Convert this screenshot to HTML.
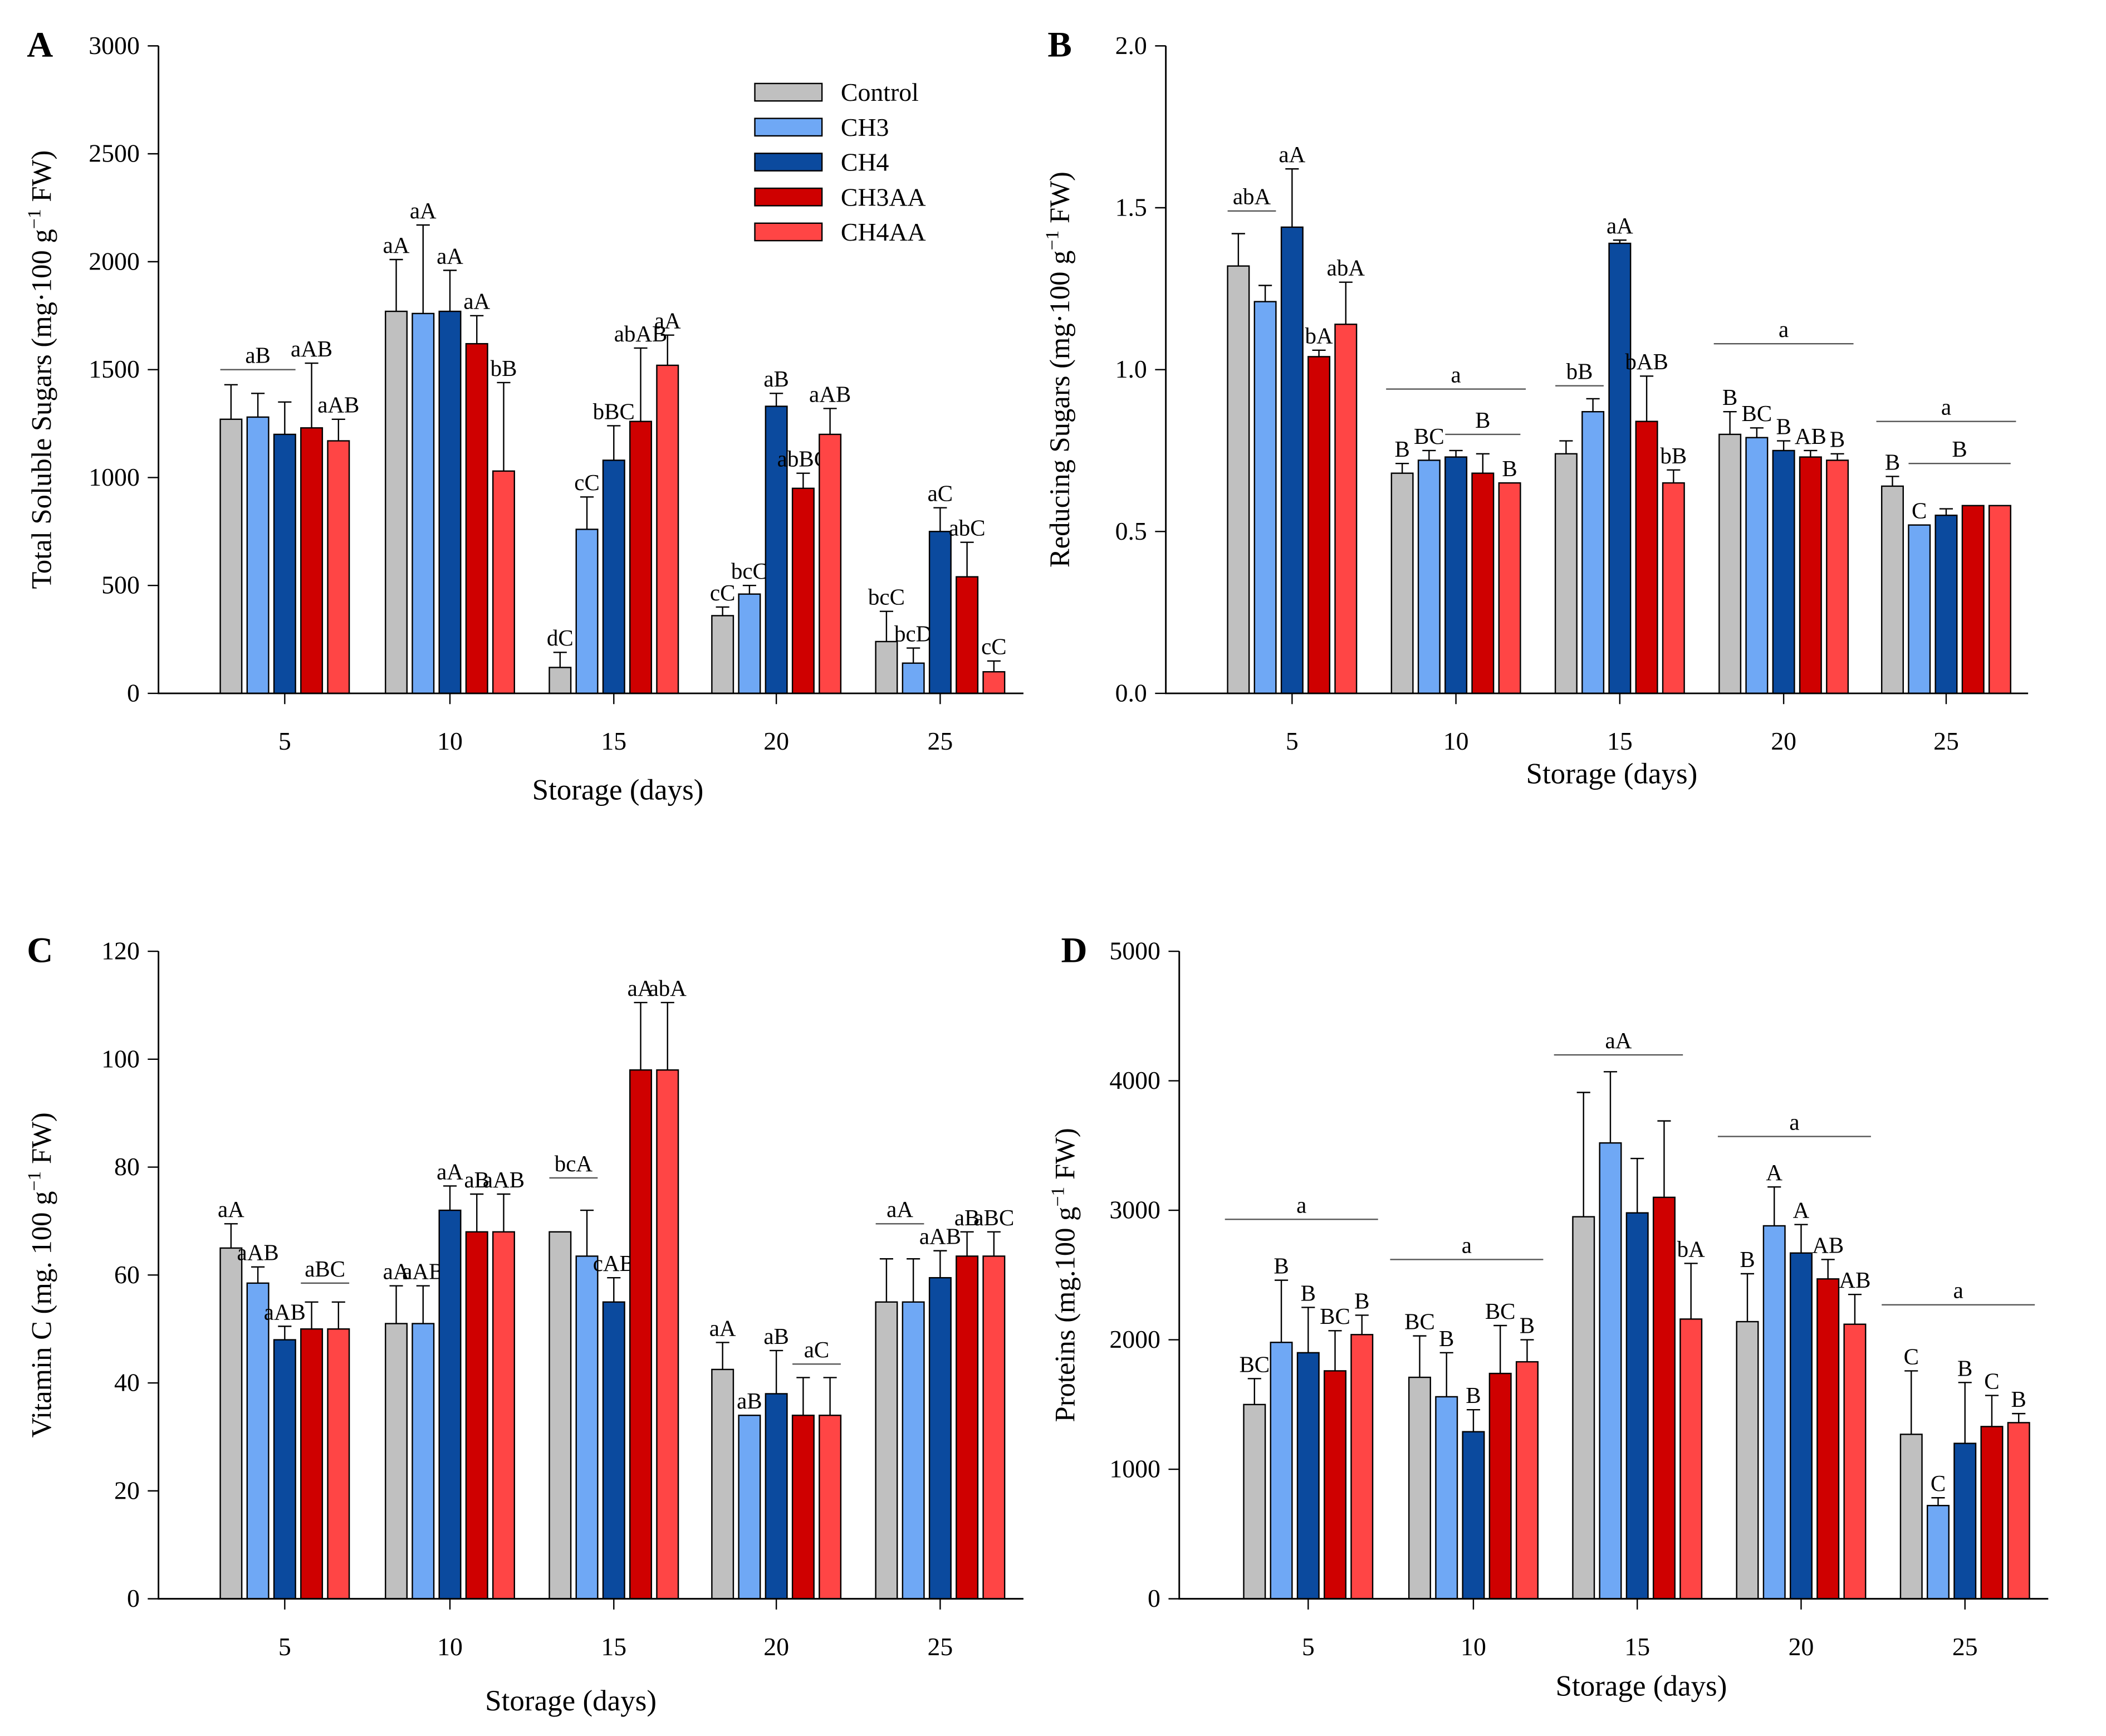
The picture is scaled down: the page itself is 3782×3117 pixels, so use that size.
<!DOCTYPE html>
<html><head><meta charset="utf-8">
<style>
html,body{margin:0;padding:0;background:#fff;}
svg{display:block;font-family:"Liberation Serif",serif;}
</style></head>
<body>
<svg id="chart" width="3782" height="3117" viewBox="0 0 1568 1292" xmlns="http://www.w3.org/2000/svg">
<rect width="1568" height="1292" fill="#fff"/>
</svg>
<script>
const categories = ["5","10","15","20","25"];
const seriesNames = ["Control","CH3","CH4","CH3AA","CH4AA"];
const seriesColors = ["#c0c0c0","#6fa8f5","#0b4a9e","#cf0000","#ff4545"];

const aVals = [[1270,1280,1200,1230,1170],[1770,1760,1770,1620,1030],[120,760,1080,1260,1520],[360,460,1330,950,1200],[240,140,750,540,100]];
const aErr  = [[160,110,150,300,100],[240,410,190,130,410],[70,150,160,340,140],[40,40,60,70,120],[140,70,110,160,50]];
const aLabels = [["","","","aAB","aAB"],["aA","aA","aA","aA","bB"],["dC","cC","bBC","abAB","aA"],["cC","bcC","aB","abBC","aAB"],["bcC","bcD","aC","abC","cC"]];
const aLines = [[0,0,2,1500,"aB"]];
const aTicks = [0,500,1000,1500,2000,2500,3000];

const bVals = [[1.32,1.21,1.44,1.04,1.14],[0.68,0.72,0.73,0.68,0.65],[0.74,0.87,1.39,0.84,0.65],[0.80,0.79,0.75,0.73,0.72],[0.64,0.52,0.55,0.58,0.58]];
const bErr  = [[0.10,0.05,0.18,0.02,0.13],[0.03,0.03,0.02,0.06,0.0],[0.04,0.04,0.01,0.14,0.04],[0.07,0.03,0.03,0.02,0.02],[0.03,0.0,0.02,0.0,0.0]];
const bLabels = [["","","aA","bA","abA"],["B","BC","","","B"],["","","aA","bAB","bB"],["B","BC","B","AB","B"],["B","C","","",""]];
const bLines = [[0,0,1,1.49,"abA"],[1,-0.2,4.2,0.94,"a"],[1,2,4,0.80,"B"],[2,0,1,0.95,"bB"],[3,-0.2,4.2,1.08,"a"],[4,-0.2,4.2,0.84,"a"],[4,1,4,0.71,"B"]];
const bTicks = [0,0.5,1.0,1.5,2.0];

const cVals = [[65,58.5,48,50,50],[51,51,72,68,68],[68,63.5,55,98,98],[42.5,34,38,34,34],[55,55,59.5,63.5,63.5]];
const cErr  = [[4.5,3,2.5,5,5],[7,7,4.5,7,7],[0,8.5,4.5,12.5,12.5],[5,0,8,7,7],[8,8,5,4.5,4.5]];
const cLabels = [["aA","aAB","aAB","",""],["aA","aAB","aA","aB","aAB"],["","","cAB","aA","abA"],["aA","aB","aB","",""],["","","aAB","aB","aBC"]];
const cLines = [[0,3,4,58.5,"aBC"],[2,0,1,78,"bcA"],[3,3,4,43.5,"aC"],[4,0,1,69.5,"aA"]];
const cTicks = [0,20,40,60,80,100,120];

const dVals = [[1500,1980,1900,1760,2040],[1710,1560,1290,1740,1830],[2950,3520,2980,3100,2160],[2140,2880,2670,2470,2120],[1270,720,1200,1330,1360]];
const dErr  = [[200,480,350,310,150],[320,340,170,370,170],[960,550,420,590,430],[370,300,220,150,230],[490,60,470,240,70]];
const dLabels = [["BC","B","B","BC","B"],["BC","B","B","BC","B"],["","","","","bA"],["B","A","A","AB","AB"],["C","C","B","C","B"]];
const dLines = [[0,-0.7,4.2,2930,"a"],[1,-0.7,4.2,2620,"a"],[2,-0.7,3.3,4200,"aA"],[3,-0.7,4.2,3570,"a"],[4,-0.7,4.2,2270,"a"]];
const dTicks = [0,1000,2000,3000,4000,5000];

const svg = document.getElementById('chart');
const NS = "http://www.w3.org/2000/svg";
function mk(tag, attrs, parent){const e=document.createElementNS(NS,tag);for(const k in attrs)e.setAttribute(k,attrs[k]);(parent||svg).appendChild(e);return e;}

const panels = [
 {id:"a",letter:"A",vals:aVals,err:aErr,labels:aLabels,lines:aLines,ticks:aTicks,fmt:v=>String(v),x0:118,x1:762,top:34,bot:516,max:3000,cx:[212,335,457,578,700],ytitle:"Total Soluble Sugars (mg·100 g",ytx:38,xtitleY:595,xtitleX:460},
 {id:"b",letter:"B",vals:bVals,err:bErr,labels:bLabels,lines:bLines,ticks:bTicks,fmt:v=>v.toFixed(1),x0:868,x1:1510,top:34,bot:516,max:2.0,cx:[962,1084,1206,1328,1449],ytitle:"Reducing Sugars (mg·100 g",ytx:796,xtitleY:583,xtitleX:1200},
 {id:"c",letter:"C",vals:cVals,err:cErr,labels:cLabels,lines:cLines,ticks:cTicks,fmt:v=>String(v),x0:118,x1:762,top:708,bot:1190,max:120,cx:[212,335,457,578,700],ytitle:"Vitamin C (mg. 100 g",ytx:38,xtitleY:1273,xtitleX:425},
 {id:"d",letter:"D",vals:dVals,err:dErr,labels:dLabels,lines:dLines,ticks:dTicks,fmt:v=>String(v),x0:878,x1:1525,top:708,bot:1190,max:5000,cx:[974,1097,1219,1341,1463],ytitle:"Proteins (mg.100 g",ytx:800,xtitleY:1262,xtitleX:1222}
];

panels.forEach(p=>{
  const g = mk('g',{});
  
  
  const y = v => p.bot - (v/p.max)*(p.bot-p.top);
  const bx = (gi,si) => p.cx[gi] + (si-2)*20;
  // panel letter
  const L = mk('text',{x:p.x0-98+(p.id==='b'||p.id==='d'?-0:0),y:p.top+8,'font-size':27,'font-weight':'bold'},g);
  L.setAttribute('x', p.id==='a'||p.id==='c' ? 20 : p.x0-88);
  
  
  L.textContent = p.letter;
  // bars
  p.vals.forEach((row,gi)=>{
    row.forEach((v,si)=>{
      const x = bx(gi,si);
      const r = mk('rect',{x:x-8,y:y(v),width:16,height:p.bot-y(v),fill:seriesColors[si],stroke:'#000','stroke-width':1},g);
      
      
      const e = p.err[gi][si];
      if(e>0){
        const eb = mk('path',{d:`M${x} ${y(v)} V${y(v+e)} M${x-5} ${y(v+e)} H${x+5}`,stroke:'#000','stroke-width':1,fill:'none'},g);
        
        
      }
      const lab = p.labels[gi][si];
      if(lab){
        const t = mk('text',{x:x,y:y(v+e)-5,'font-size':17,'text-anchor':'middle'},g);
        
        
        t.textContent = lab;
      }
    });
  });
  // lines
  p.lines.forEach(l=>{
    const xa = bx(l[0],l[1])-8, xb = bx(l[0],l[2])+8, yy=y(l[3]);
    const ln = mk('line',{x1:xa,x2:xb,y1:yy,y2:yy,stroke:'#555','stroke-width':1},g);
    
    
    const t = mk('text',{x:(xa+xb)/2,y:yy-5,'font-size':17,'text-anchor':'middle'},g);
    
    
    t.textContent = l[4];
  });
  // axes
  const ax = mk('path',{d:`M${p.x0} ${p.top} V${p.bot} H${p.x1}`,stroke:'#000','stroke-width':1.2,fill:'none'},g);
  
  
  p.ticks.forEach(tv=>{
    const tk = mk('line',{x1:p.x0-8,x2:p.x0,y1:y(tv),y2:y(tv),stroke:'#000','stroke-width':1},g);
    
    
    const t = mk('text',{x:p.x0-14,y:y(tv)+6,'font-size':19,'text-anchor':'end'},g);
    
    
    t.textContent = p.fmt(tv);
  });
  categories.forEach((c,gi)=>{
    const tk = mk('line',{x1:p.cx[gi],x2:p.cx[gi],y1:p.bot,y2:p.bot+8,stroke:'#000','stroke-width':1},g);
    
    
    const t = mk('text',{x:p.cx[gi],y:p.bot+42,'font-size':19,'text-anchor':'middle'},g);
    
    
    t.textContent = c;
  });
  const xt = mk('text',{x:p.xtitleX,y:p.xtitleY,'font-size':22,'text-anchor':'middle'},g);
  
  
  xt.textContent = 'Storage (days)';
  const ym = (p.top+p.bot)/2;
  const yt = mk('text',{x:0,y:0,'font-size':21,'text-anchor':'middle',transform:`translate(${p.ytx},${ym}) rotate(-90)`},g);
  
  
  yt.appendChild(document.createTextNode(p.ytitle));
  const sup = mk('tspan',{'font-size':14,dy:-8},yt); sup.textContent='−1';
  const rest = mk('tspan',{dy:8},yt); rest.textContent=' FW)';
});

// legend
const lg = mk('g',{});


seriesNames.forEach((n,i)=>{
  const yy = 62 + i*26;
  const r = mk('rect',{x:562,y:yy,width:50,height:13,fill:seriesColors[i],stroke:'#000','stroke-width':1},lg);
  
  
  const t = mk('text',{x:626,y:yy+13,'font-size':19},lg);
  
  
  t.textContent = n;
});
</script>
</body></html>
